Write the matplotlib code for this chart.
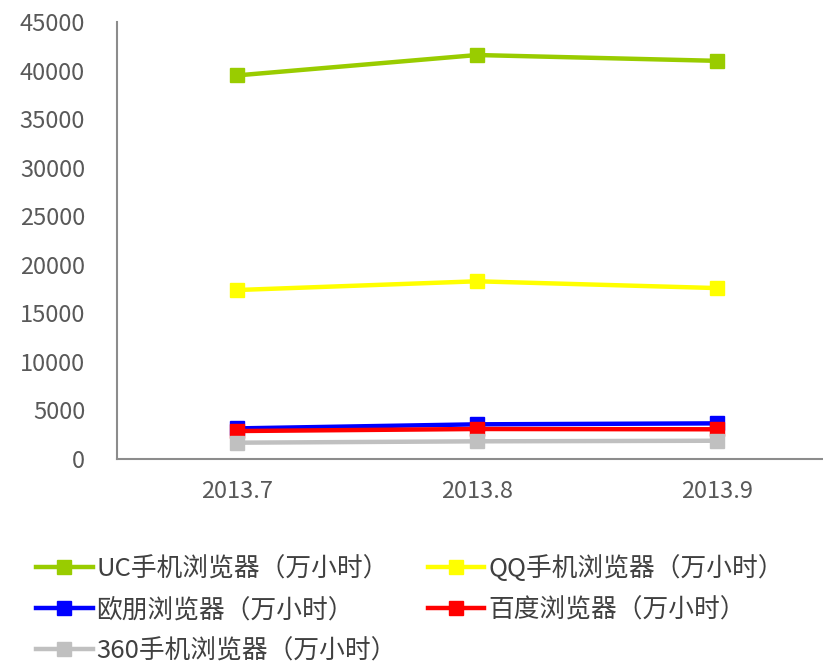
import matplotlib
matplotlib.use("Agg")
import matplotlib.pyplot as plt

categories = ["2013.7", "2013.8", "2013.9"]
series_names = ["UC手机浏览器（万小时）", "QQ手机浏览器（万小时）", "欧朋浏览器（万小时）",
                "百度浏览器（万小时）", "360手机浏览器（万小时）"]
uc = [39500, 41600, 41000]
qq = [17400, 18300, 17600]
oupeng = [3150, 3570, 3670]
baidu = [2880, 3090, 3060]
s360 = [1680, 1820, 1880]
yticks = [0, 5000, 10000, 15000, 20000, 25000, 30000, 35000, 40000, 45000]

colors = ["#99CC00", "#FFFF00", "#0000FF", "#FF0000", "#C0C0C0"]
values = [uc, qq, oupeng, baidu, s360]

plt.rcParams['font.family'] = ['Noto Sans CJK SC', 'DejaVu Sans']

fig = plt.figure(figsize=(8.23, 6.65), dpi=100)
ax = fig.add_axes([117/823, (665-459)/665, 1 - 117/823, (459-22)/665])

x = list(range(len(categories)))
for name, vals, c in zip(series_names, values, colors):
    ax.plot(x, vals, color=c, lw=3.2, marker='s', markersize=10, label=name)

ax.set_ylim(0, 45000)
ax.set_yticks(yticks)
ax.set_xlim(-0.5, -0.5 + (823-117)/240)
ax.set_xticks(x)
ax.set_xticklabels(categories)
ax.tick_params(axis='both', labelsize=17, colors='#595959', length=0)
ax.tick_params(axis='x', pad=15)
ax.tick_params(axis='y', pad=23)
for s in ['top', 'right']:
    ax.spines[s].set_visible(False)
for s in ['left', 'bottom']:
    ax.spines[s].set_color('#8C8C8C')
    ax.spines[s].set_linewidth(1.5)

handles, labels = ax.get_legend_handles_labels()
order = [0, 2, 4, 1, 3]
leg = fig.legend([handles[i] for i in order], [labels[i] for i in order],
                 loc='upper left', bbox_to_anchor=(0.044, 0.165),
                 ncol=2, frameon=False, fontsize=18.5, handlelength=2.2,
                 columnspacing=1.2, labelspacing=0.58, handletextpad=0.15,
                 labelcolor='#404040', borderaxespad=0, borderpad=0)

fig.savefig("out.png", dpi=100)
